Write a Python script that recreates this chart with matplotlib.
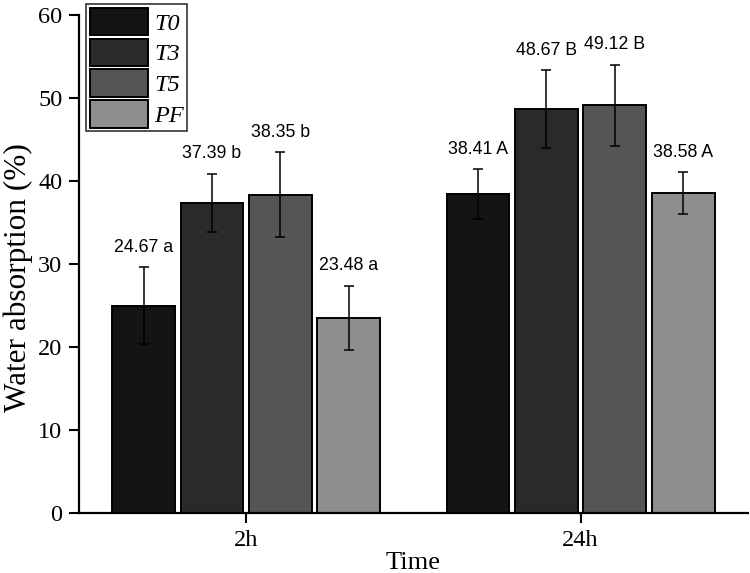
import matplotlib
matplotlib.use("Agg")
import matplotlib.pyplot as plt
import numpy as np

groups = ["2h", "24h"]
series = ["T0", "T3", "T5", "PF"]
values = {
    "T0": [25.0, 38.41],
    "T3": [37.39, 48.67],
    "T5": [38.35, 49.12],
    "PF": [23.48, 38.58],
}
errors = {
    "T0": [4.6, 3.0],
    "T3": [3.5, 4.7],
    "T5": [5.1, 4.9],
    "PF": [3.9, 2.5],
}
labels = {
    "T0": ["24.67 a", "38.41 A"],
    "T3": ["37.39 b", "48.67 B"],
    "T5": ["38.35 b", "49.12 B"],
    "PF": ["23.48 a", "38.58 A"],
}
colors = ["#141414", "#2a2a2a", "#555555", "#8e8e8e"]

serif = ["Liberation Serif", "DejaVu Serif"]
sans = ["Liberation Sans", "DejaVu Sans"]

fig = plt.figure(figsize=(7.5, 5.73), dpi=100)
ax = fig.add_axes([0.1053, 0.1047, 0.8917, 0.8691])

x = np.arange(len(groups))
pitch = 0.2045
width = 0.188
for i, s in enumerate(series):
    pos = x + (i - 1.5) * pitch
    ax.bar(pos, values[s], width, color=colors[i], edgecolor="black",
           linewidth=1.4, label=s, zorder=2)
    ax.errorbar(pos, values[s], yerr=errors[s], fmt="none", ecolor="black",
                elinewidth=1.1, capsize=3.6, capthick=1.1, zorder=3)
    for p, v, e, t in zip(pos, values[s], errors[s], labels[s]):
        ax.annotate(t, (p, v + e), xytext=(0, 11), textcoords="offset points",
                    ha="center", va="baseline", fontsize=12.8, family=sans)

ax.set_xlim(-0.5, 1.5)
ax.set_ylim(0, 60)
ax.set_yticks(np.arange(0, 61, 10))
ax.set_xticks(x)
ax.set_xticklabels(groups)
for lab in ax.get_xticklabels() + ax.get_yticklabels():
    lab.set_family(serif)
    lab.set_fontsize(17.5)
ax.tick_params(direction="out", length=7, width=1.5, pad=5)
for side in ["top", "right"]:
    ax.spines[side].set_visible(False)
for side in ["left", "bottom"]:
    ax.spines[side].set_linewidth(1.6)

ax.set_xlabel("Time", family=serif, fontsize=19, labelpad=1)
ax.set_ylabel("Water absorption (%)", family=serif, fontsize=22.5)
ax.yaxis.set_label_coords(-0.068, 0.472)

leg = ax.legend(loc="upper left", bbox_to_anchor=(0.0105, 1.022),
                prop={"family": serif, "style": "italic", "size": 17.5},
                frameon=True, fancybox=False, edgecolor="black",
                handlelength=2.4, handleheight=1.36, labelspacing=0.14,
                borderpad=0.15, handletextpad=0.25, borderaxespad=0)
leg.get_frame().set_linewidth(1.2)

fig.savefig("out.png", dpi=100)
